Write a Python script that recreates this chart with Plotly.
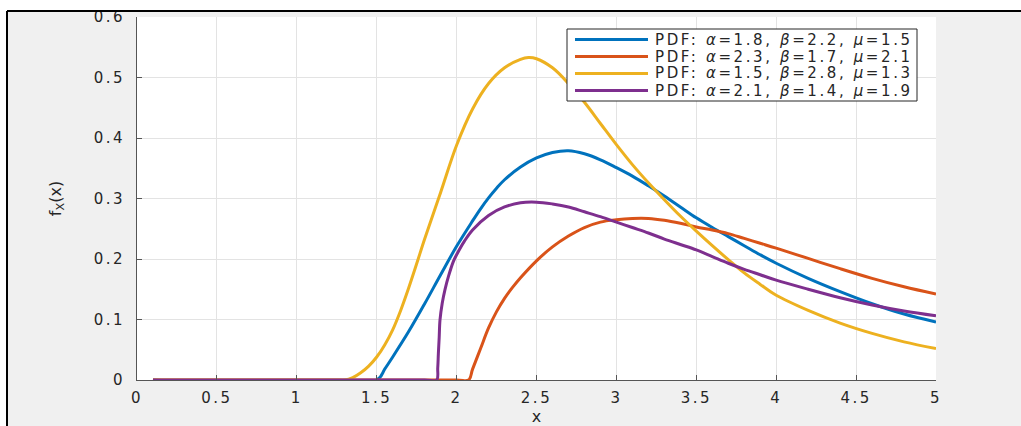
import plotly.graph_objects as go

# ---- data ----
x_blue = [0.1, 1.5, 1.55, 1.6, 1.7, 1.8, 1.9, 2.0, 2.1, 2.15, 2.2, 2.25, 2.3, 2.4, 2.5, 2.6, 2.7, 2.8, 2.9,
          3.0, 3.1, 3.2, 3.3, 3.4, 3.5, 3.6, 3.7, 3.8, 3.9, 4.0, 4.2, 4.4, 4.6, 4.8, 5.0]
y_blue = [0.0, 0.0, 0.018, 0.038, 0.080, 0.126, 0.174, 0.221, 0.263, 0.283, 0.301, 0.317, 0.331, 0.352, 0.367, 0.376, 0.379, 0.374, 0.364,
          0.351, 0.337, 0.321, 0.304, 0.286, 0.268, 0.252, 0.237, 0.222, 0.207, 0.193, 0.168, 0.146, 0.126, 0.109, 0.096]

x_orange = [0.1, 2.0, 2.075, 2.1, 2.15, 2.2, 2.25, 2.3, 2.35, 2.4, 2.5, 2.6, 2.7, 2.8, 2.9, 3.0, 3.1, 3.2, 3.3,
            3.4, 3.5, 3.6, 3.7, 3.8, 3.9, 4.0, 4.2, 4.4, 4.6, 4.8, 5.0]
y_orange = [0.0, 0.0, 0.0, 0.018, 0.052, 0.086, 0.113, 0.135, 0.153, 0.169, 0.197, 0.220, 0.238, 0.252, 0.261, 0.265, 0.267, 0.267, 0.264,
            0.259, 0.253, 0.248, 0.242, 0.234, 0.226, 0.218, 0.201, 0.184, 0.168, 0.154, 0.142]

x_yellow = [0.1, 1.25, 1.3, 1.35, 1.4, 1.45, 1.5, 1.55, 1.6, 1.65, 1.7, 1.75, 1.8, 1.9, 2.0, 2.1, 2.2, 2.3, 2.4, 2.45,
            2.5, 2.6, 2.7, 2.8, 2.9, 3.0, 3.1, 3.2, 3.3, 3.4, 3.5, 3.6, 3.7, 3.8, 3.9, 4.0,
            4.2, 4.4, 4.6, 4.8, 5.0]
y_yellow = [0.0, 0.0, 0.0, 0.004, 0.012, 0.023, 0.038, 0.058, 0.083, 0.115, 0.152, 0.192, 0.233, 0.310, 0.388, 0.448, 0.490, 0.516, 0.530, 0.533,
            0.531, 0.516, 0.490, 0.459, 0.424, 0.389, 0.356, 0.326, 0.298, 0.271, 0.246, 0.222, 0.199, 0.177, 0.158, 0.140,
            0.115, 0.094, 0.077, 0.063, 0.052]

x_purple = [0.1, 1.8, 1.875, 1.882, 1.886, 1.891, 1.896, 1.91, 1.927, 1.95, 1.98, 2.0, 2.05, 2.1, 2.2, 2.3, 2.4, 2.5,
            2.6, 2.7, 2.8, 2.9, 3.0, 3.1, 3.2, 3.3, 3.4, 3.5, 3.6, 3.7, 3.8, 3.9, 4.0,
            4.2, 4.4, 4.6, 4.8, 5.0]
y_purple = [0.0, 0.0, 0.0, 0.020, 0.044, 0.070, 0.099, 0.127, 0.149, 0.172, 0.196, 0.207, 0.230, 0.248, 0.272, 0.286, 0.293, 0.294,
            0.291, 0.286, 0.278, 0.270, 0.261, 0.252, 0.243, 0.233, 0.224, 0.215, 0.204, 0.193, 0.183, 0.174, 0.165,
            0.150, 0.136, 0.124, 0.114, 0.106]

names = ["PDF: <i>α</i>=1.8, <i>β</i>=2.2, <i>μ</i>=1.5",
         "PDF: <i>α</i>=2.3, <i>β</i>=1.7, <i>μ</i>=2.1",
         "PDF: <i>α</i>=1.5, <i>β</i>=2.8, <i>μ</i>=1.3",
         "PDF: <i>α</i>=2.1, <i>β</i>=1.4, <i>μ</i>=1.9"]
colors = ["#0072BD", "#D95319", "#EDB120", "#7E2F8E"]

x_ticks = [0, 0.5, 1, 1.5, 2, 2.5, 3, 3.5, 4, 4.5, 5]
x_tick_labels = ["0", "0.5", "1", "1.5", "2", "2.5", "3", "3.5", "4", "4.5", "5"]
y_ticks = [0, 0.1, 0.2, 0.3, 0.4, 0.5, 0.6]
y_tick_labels = ["0", "0.1", "0.2", "0.3", "0.4", "0.5", "0.6"]

FONT = "DejaVu Sans"
TXT = "#262626"

def wide(s, sp):
    return '<span style="letter-spacing:%spx">%s</span>' % (sp, s)

fig = go.Figure()
series = [(x_blue, y_blue), (x_orange, y_orange), (x_yellow, y_yellow), (x_purple, y_purple)]
for (xs, ys), nm, c in zip(series, names, colors):
    fig.add_trace(go.Scatter(x=xs, y=ys, mode="lines", name=nm,
                             line=dict(color=c, width=3, shape="spline", smoothing=1.0),
                             showlegend=False, hoverinfo="skip"))

# plot area: left 137, right 936, top 17, bottom 380 (px)
L, R, T, B = 137, 936, 17, 380
W, H = R - L, B - T
def px(xp):
    return (xp - L) / W
def py(yp):
    return (B - yp) / H

shapes = []
shapes.append(dict(type="rect", xref="paper", yref="paper", x0=px(-20), x1=px(1040), y0=py(11), y1=py(-20),
                   fillcolor="white", line=dict(width=0), layer="below"))
shapes.append(dict(type="rect", xref="paper", yref="paper", x0=px(-20), x1=px(7), y0=py(440), y1=py(-20),
                   fillcolor="white", line=dict(width=0), layer="below"))
shapes.append(dict(type="line", xref="paper", yref="paper", x0=px(7), x1=px(1040), y0=py(11), y1=py(11),
                   line=dict(color="black", width=2), layer="above"))
shapes.append(dict(type="line", xref="paper", yref="paper", x0=px(7), x1=px(7), y0=py(11), y1=py(440),
                   line=dict(color="black", width=2), layer="above"))

# legend box
lx0, lx1, ly0, ly1 = 567, 917, 29, 101
shapes.append(dict(type="rect", xref="paper", yref="paper", x0=px(lx0), x1=px(lx1), y0=py(ly1), y1=py(ly0),
                   fillcolor="white", line=dict(color="#262626", width=1), layer="above"))
rows = [39.5, 56.5, 73.5, 90.5]
annotations = []
for r, nm, c in zip(rows, names, colors):
    shapes.append(dict(type="line", xref="paper", yref="paper", x0=px(575), x1=px(648), y0=py(r), y1=py(r),
                       line=dict(color=c, width=3), layer="above"))
    annotations.append(dict(text=wide(nm, 2.6), xref="paper", yref="paper", x=px(653), y=py(r), xanchor="left",
                            yanchor="middle", showarrow=False, font=dict(family=FONT, size=15, color=TXT)))

fig.update_layout(
    width=1021, height=426,
    margin=dict(l=L, r=1021 - R, t=T, b=426 - B),
    paper_bgcolor="#f0f0f0", plot_bgcolor="white",
    shapes=shapes, annotations=annotations,
    showlegend=False, hovermode=False,
    font=dict(family=FONT, size=15, color=TXT),
)
fig.update_xaxes(range=[0, 5], tickvals=x_ticks, ticktext=[wide(t, 2.5) for t in x_tick_labels],
                 showgrid=True, gridcolor="#e3e3e3", gridwidth=1, zeroline=False,
                 showline=True, linecolor="#555555", linewidth=1,
                 ticks="inside", ticklen=5, tickcolor="#555555", automargin=False,
                 tickfont=dict(family=FONT, size=15, color=TXT), ticklabelstandoff=4,
                 title=dict(text="x", font=dict(family=FONT, size=16, color=TXT), standoff=4))
fig.update_yaxes(range=[0, 0.6], tickvals=y_ticks, ticktext=[wide(t, 2.5) for t in y_tick_labels],
                 showgrid=True, gridcolor="#e3e3e3", gridwidth=1, zeroline=False,
                 showline=True, linecolor="#555555", linewidth=1,
                 ticks="inside", ticklen=5, tickcolor="#555555", automargin=False,
                 tickfont=dict(family=FONT, size=15, color=TXT), ticklabelstandoff=8,
                 title=dict(text="f<sub>X</sub>(x)", font=dict(family=FONT, size=16, color=TXT), standoff=28))

fig.write_html("out.html", config={"displayModeBar": False},
               post_script="document.body.style.margin='0';document.body.style.overflow='hidden';")
